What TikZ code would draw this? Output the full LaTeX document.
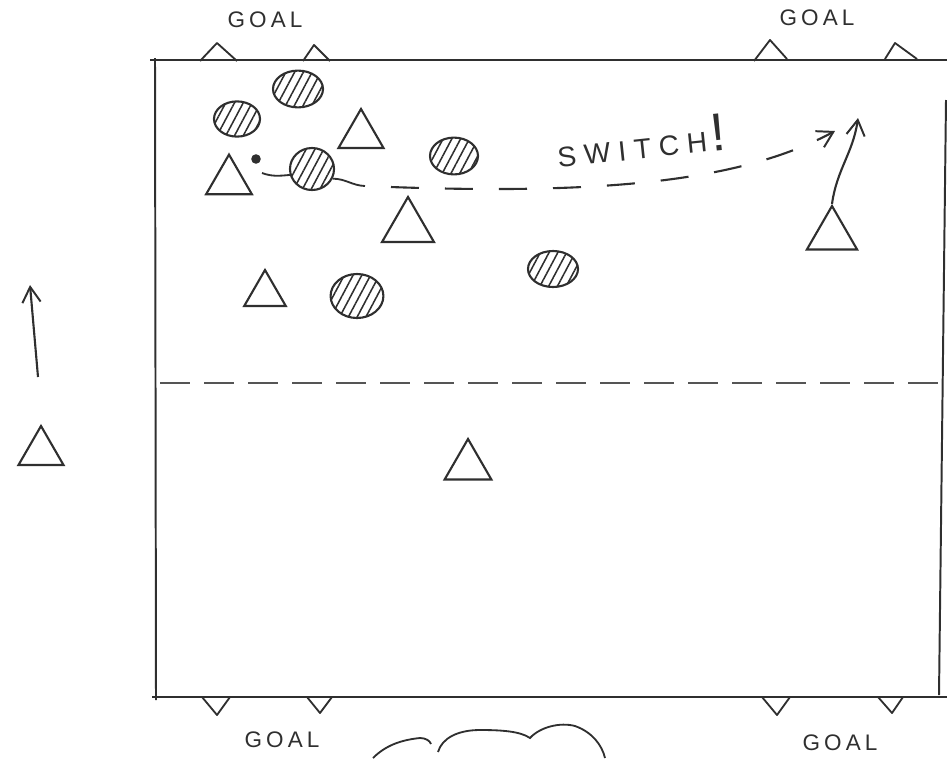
\documentclass[tikz,border=0pt]{standalone}
\usepackage{fontspec}
\newfontfamily\sketchfont[LetterSpace=18]{Liberation Sans}
\usetikzlibrary{arrows.meta,calc,positioning,shapes.geometric,patterns.meta}
\definecolor{penCol}{HTML}{2F2F2F}
\definecolor{lineCol}{HTML}{555555}

\begin{document}
\begin{tikzpicture}[x=0.025cm,y=-0.025cm,line width=1.5pt,color=penCol,
    every node/.style={font=\sketchfont\fontsize{16}{16}\selectfont}]
  \tikzset{opp/.style n args={2}{ellipse,draw,inner sep=0pt,minimum width=#1,minimum height=#2,
        pattern={Lines[angle=62,distance=5.5pt,line width=1.1pt]},pattern color=penCol},
    mate/.style={regular polygon,regular polygon sides=3,draw,inner sep=0pt,minimum size=#1},
    goalpost/.style={line width=1.3pt,line join=round},
    run/.style={-{Straight Barb[length=11pt,width=13pt,line width=1.4pt]},line width=1.5pt}}
  \useasboundingbox (0,0) rectangle (947,758);
  % field
  \draw[line width=1.4pt] (150,60) -- (947,60);
  \draw[line width=1.4pt] (155,58) -- (156,700);
  \draw[line width=1.4pt] (152,697) -- (947,697);
  \draw[line width=1.4pt] (946,100) -- (939,695);
  \draw[lineCol,line width=0.9pt,dash pattern=on 0.75cm off 0.35cm] (160,383) -- (945,383);
  % goals
  \draw[goalpost] (200,61) -- (217,43) -- (237,61);
  \draw[goalpost] (303,61) -- (314,45) -- (330,61);
  \draw[goalpost] (754,61) -- (770,40) -- (787,59);
  \draw[goalpost] (885,59) -- (895,43) -- (917,59);
  \draw[goalpost] (202,697) -- (217,715) -- (230,697);
  \draw[goalpost] (307,697) -- (320,713) -- (332,697);
  \draw[goalpost] (762,697) -- (777,715) -- (790,697);
  \draw[goalpost] (878,697) -- (892,713) -- (903,697);
  \node (goalTL) at (265,20) {GOAL};
  \node (goalTR) at (817,18) {GOAL};
  \node (goalBL) at (282,740) {GOAL};
  \node (goalBR) at (840,743) {GOAL};
  % opponents
  \node[opp={1.25cm}{0.92cm}] (o1) at (298,89) {};
  \node[opp={1.15cm}{0.88cm}] (o2) at (237,119) {};
  \node[opp={1.1cm}{1.05cm}] (o3) at (312,169) {};
  \node[opp={1.2cm}{0.92cm}] (o4) at (454,156) {};
  \node[opp={1.32cm}{1.1cm}] (o5) at (357,296) {};
  \node[opp={1.25cm}{0.9cm}] (o6) at (553,269) {};
  % own team
  \node[mate=1.3cm] (t1) at (361,135) {};
  \node[mate=1.32cm] (t2) at (229,181) {};
  \node[mate=1.5cm] (t3) at (408,227) {};
  \node[mate=1.2cm] (t4) at (265,294) {};
  \node[mate=1.45cm] (t5) at (832,235) {};
  \node[mate=1.3cm] (t6) at (41,452) {};
  \node[mate=1.35cm] (t7) at (468,466) {};
  \node[circle,fill,inner sep=0pt,minimum size=0.24cm] (ball) at (256,159) {};
  % moves
  \coordinate (drib) at (365,186);
  \coordinate (pass) at (835,131);
  \coordinate (up) at (858,118);
  \coordinate (wingA) at (38,377);
  \coordinate (wingB) at (30,285);
  \draw[line width=1.3pt] ($(ball)+(6,14)$) to[out=-20,in=185] (o3.195);
  \draw[line width=1.3pt] (o3.-25) to[out=0,in=178] (drib);
  \draw[run,dash pattern=on 0.7cm off 0.65cm,dash phase=0.7cm] (drib)
        .. controls (600,196) and (740,182) .. (pass);
  \draw[run] (t5.north) to[out=82,in=-98] (up);
  \draw[run] (wingA) -- (wingB);
  \node[rotate=6,font=\sketchfont\addfontfeature{LetterSpace=28}\fontsize{20}{20}\selectfont,anchor=base west]
        (switch) at (553,168) {SWITCH\,{\fontsize{38}{38}\selectfont !}};
  % cloud
  \draw[line width=1.3pt] (373,758) .. controls (385,746) and (400,740) .. (420,738)
        .. controls (426,738) and (430,741) .. (431,744);
  \draw[line width=1.3pt] (438,752) .. controls (442,738) and (458,730) .. (480,730)
        .. controls (500,730) and (520,731) .. (530,738)
        .. controls (540,727) and (560,722) .. (575,726)
        .. controls (592,732) and (602,745) .. (605,758);
\end{tikzpicture}
\end{document}
